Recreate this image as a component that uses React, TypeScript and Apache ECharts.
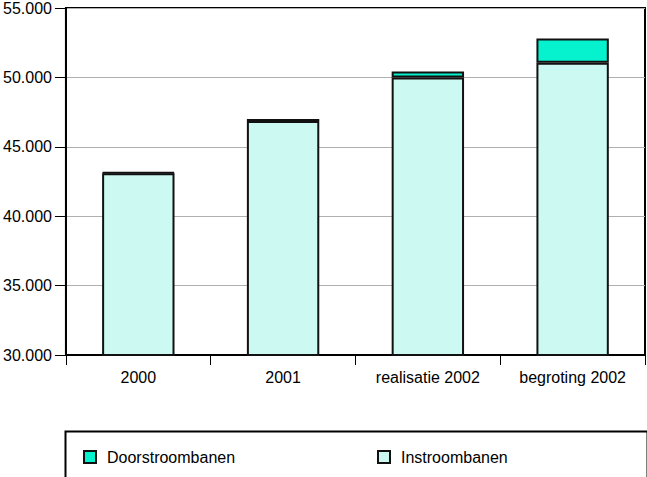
import React, { useEffect, useRef } from "react";
import * as echarts from "echarts";

const categories = ["2000", "2001", "realisatie 2002", "begroting 2002"];
const instroombanen = [43100, 46850, 50000, 51050];
const doorstroombanen = [50, 150, 430, 1760];
const yTicks = { min: 30000, max: 55000, interval: 5000 };

const FONT = "'Liberation Sans', Arial, Helvetica, sans-serif";

export default function App() {
  const ref = useRef<HTMLDivElement>(null);
  useEffect(() => {
    if (!ref.current) return;
    const chart = echarts.init(ref.current, undefined, { renderer: "svg" });
    chart.setOption({
      animation: false,
      backgroundColor: "#ffffff",
      textStyle: { fontFamily: FONT },
      grid: {
        left: 63,
        right: 2,
        top: 5,
        bottom: 122,
        show: true,
        borderColor: "#000",
        borderWidth: 2,
        backgroundColor: "transparent",
      },
      xAxis: {
        type: "category",
        data: categories,
        axisLine: { lineStyle: { color: "#000", width: 2 } },
        axisTick: { show: true, length: 10, lineStyle: { color: "#000", width: 1 } },
        axisLabel: { color: "#000", fontSize: 16, margin: 14, fontFamily: FONT },
      },
      yAxis: {
        type: "value",
        min: yTicks.min,
        max: yTicks.max,
        interval: yTicks.interval,
        axisLine: { show: true, lineStyle: { color: "#000", width: 2 } },
        axisTick: { show: true, length: 11, lineStyle: { color: "#000", width: 1 } },
        axisLabel: {
          color: "#000",
          fontSize: 16,
          margin: 14,
          fontFamily: FONT,
          formatter: (v: number) => {
            const s = String(Math.round(v));
            return s.slice(0, s.length - 3) + "." + s.slice(s.length - 3);
          },
        },
        splitLine: { show: true, lineStyle: { color: "#b0b0b0", width: 1 } },
      },
      legend: [
        {
          data: ["Doorstroombanen"],
          left: 78,
          top: 444,
          itemWidth: 12,
          itemHeight: 12,
          icon: "rect",
          textStyle: { fontSize: 16, color: "#000", fontFamily: FONT, padding: [0, 0, 0, 6] },
        },
        {
          data: ["Instroombanen"],
          left: 372,
          top: 444,
          itemWidth: 12,
          itemHeight: 12,
          icon: "rect",
          textStyle: { fontSize: 16, color: "#000", fontFamily: FONT, padding: [0, 0, 0, 6] },
        },
      ],
      graphic: [
        {
          type: "rect",
          left: 63,
          top: 429,
          shape: { width: 582, height: 47 },
          style: { fill: "none", stroke: "#000", lineWidth: 2 },
          silent: true,
        },
      ],
      series: [
        {
          name: "Instroombanen",
          type: "bar",
          stack: "total",
          barWidth: "50%",
          data: instroombanen,
          itemStyle: { color: "#ccfaf3", borderColor: "#111", borderWidth: 2 },
        },
        {
          name: "Doorstroombanen",
          type: "bar",
          stack: "total",
          barWidth: "50%",
          data: doorstroombanen,
          itemStyle: { color: "#06f2cf", borderColor: "#111", borderWidth: 2 },
        },
      ],
    });
    return () => chart.dispose();
  }, []);
  return <div ref={ref} style={{ width: 647, height: 477, position: "absolute", left: 0, top: 0 }} />;
}
